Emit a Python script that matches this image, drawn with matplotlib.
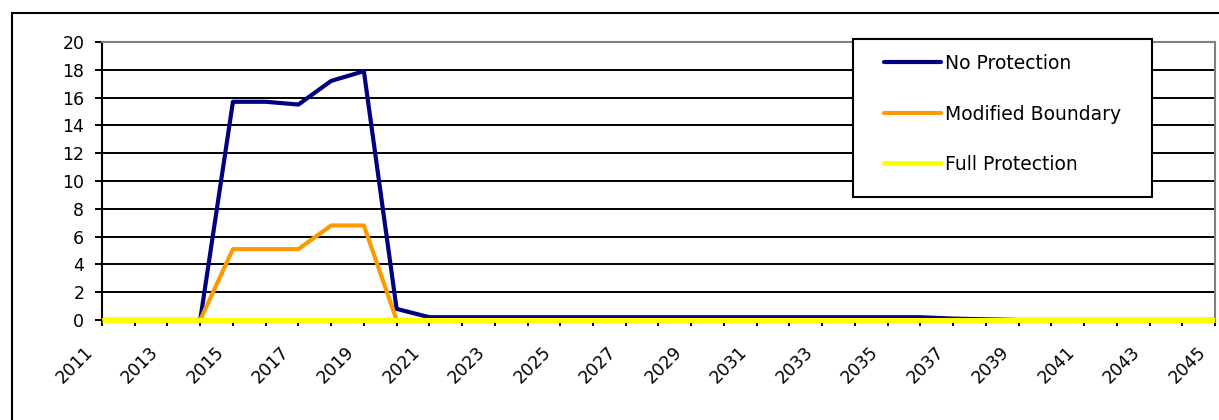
import matplotlib
matplotlib.use("Agg")
import matplotlib.pyplot as plt
from matplotlib.patches import Rectangle
from matplotlib.lines import Line2D
from matplotlib.transforms import ScaledTranslation

plt.rcParams["font.family"] = ["DejaVu Sans"]

# Annual values per scenario, 2011-2045
years = [2011, 2012, 2013, 2014, 2015, 2016, 2017, 2018, 2019, 2020,
         2021, 2022, 2023, 2024, 2025, 2026, 2027, 2028, 2029, 2030,
         2031, 2032, 2033, 2034, 2035, 2036, 2037, 2038, 2039, 2040,
         2041, 2042, 2043, 2044, 2045]
no_protection = [0, 0, 0, 0, 15.7, 15.7, 15.5, 17.2, 17.9, 0.8,
                 0.2, 0.2, 0.2, 0.2, 0.2, 0.2, 0.2, 0.2, 0.2, 0.2,
                 0.2, 0.2, 0.2, 0.2, 0.2, 0.2, 0.1, 0.05, 0, 0,
                 0, 0, 0, 0, 0]
modified_boundary = [0, 0, 0, 0, 5.1, 5.1, 5.1, 6.8, 6.8, 0,
                     0, 0, 0, 0, 0, 0, 0, 0, 0, 0,
                     0, 0, 0, 0, 0, 0, 0, 0, 0, 0,
                     0, 0, 0, 0, 0]
full_protection = [0, 0, 0, 0, 0, 0, 0, 0, 0, 0,
                   0, 0, 0, 0, 0, 0, 0, 0, 0, 0,
                   0, 0, 0, 0, 0, 0, 0, 0, 0, 0,
                   0, 0, 0, 0, 0]
series_names = ["No Protection", "Modified Boundary", "Full Protection"]
series_colors = ["#000080", "#FF9900", "#FFFF00"]
series_widths = [3.0, 3.0, 3.6]
y_ticks = [0, 2, 4, 6, 8, 10, 12, 14, 16, 18, 20]

W, H = 1219, 420
fig = plt.figure(figsize=(W / 100, H / 100), dpi=100)
ax = fig.add_axes([102 / W, 100 / H, 1113 / W, 278 / H])

xs = list(range(len(years)))

# horizontal gridlines (inner ones only; top edge is the grey frame)
ax.hlines(y_ticks[1:-1], 0, len(years) - 1, colors="black", lw=1.4, zorder=1)

ax.plot(xs, no_protection, color=series_colors[0], lw=series_widths[0],
        zorder=3)
ax.plot(xs, modified_boundary, color=series_colors[1], lw=series_widths[1],
        zorder=4)
ax.plot(xs, full_protection, color=series_colors[2], lw=series_widths[2],
        zorder=5, clip_on=False, solid_capstyle="butt")

ax.set_xlim(0, len(years) - 1)
ax.set_ylim(0, 20)
ax.set_yticks(y_ticks)
ax.set_xticks(xs)
ax.set_xticklabels([str(y) if i % 2 == 0 else "" for i, y in enumerate(years)])

for side in ("top", "right"):
    ax.spines[side].set_color("#808080")
    ax.spines[side].set_linewidth(1.5)
for side in ("left", "bottom"):
    ax.spines[side].set_color("black")
    ax.spines[side].set_linewidth(1.5)

ax.tick_params(axis="y", direction="out", length=5, width=1.4,
               pad=7.7, labelsize=12.5, colors="black")
ax.tick_params(axis="x", direction="out", length=4.6, width=1.4,
               pad=16.6, labelsize=12.5, colors="black")

shift = ScaledTranslation(-12 / 100, 0, fig.dpi_scale_trans)
for lab in ax.get_xticklabels():
    lab.set_rotation(45)
    lab.set_rotation_mode("anchor")
    lab.set_ha("right")
    lab.set_va("center")
    lab.set_transform(lab.get_transform() + shift)

# legend box
fig.patches.append(Rectangle((853 / W, 1 - 197 / H), 299 / W, 158 / H,
                             transform=fig.transFigure, facecolor="white",
                             edgecolor="black", lw=1.5, zorder=5))

handles = [Line2D([], [], color=c, lw=w, solid_capstyle="round")
           for c, w in zip(series_colors, series_widths)]
leg = fig.legend(handles, series_names, loc="upper left",
                 bbox_to_anchor=(884 / W, 1 - 54 / H),
                 bbox_transform=fig.transFigure, frameon=False,
                 borderpad=0, borderaxespad=0, fontsize=13.5,
                 handlelength=3.04, handletextpad=0.21, labelspacing=1.68)
leg.set_zorder(6)

# outer chart border
fig.patches.append(Rectangle((12 / W, -0.1), 2.0, 1 - 13 / H + 0.1,
                             transform=fig.transFigure, fill=False,
                             edgecolor="black", lw=1.5, zorder=7,
                             clip_on=False))

fig.savefig("out.png", dpi=100)
